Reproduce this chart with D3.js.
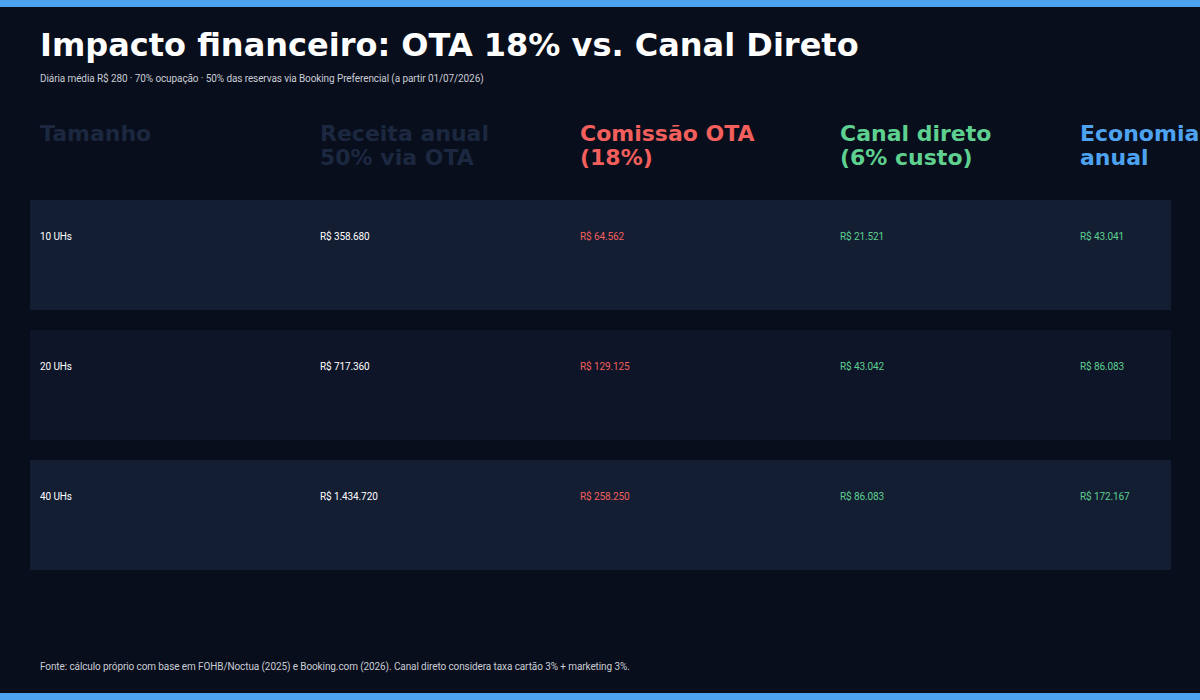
<!DOCTYPE html><html><head><meta charset="utf-8"><script src="https://cdn.jsdelivr.net/npm/d3@7"></script>
<style>body{margin:0;background:#080e1b}</style></head><body><script>
const headers=[["Tamanho"],["Receita anual","50% via OTA"],["Comissão OTA","(18%)"],["Canal direto","(6% custo)"],["Economia","anual"]];
const headerColors=["#1c2740","#1c2740","#f25f5c","#5ed08f","#4da3f0"];
const sizes=["10 UHs","20 UHs","40 UHs"];
const receita=["R$ 358.680","R$ 717.360","R$ 1.434.720"];
const comissao=["R$ 64.562","R$ 129.125","R$ 258.250"];
const direto=["R$ 21.521","R$ 43.042","R$ 86.083"];
const economia=["R$ 43.041","R$ 86.083","R$ 172.167"];
const cellColors=["#ffffff","#ffffff","#f25f5c","#5ed08f","#5ed08f"];
const colX=[40,320,580,840,1080];
const svg=d3.select("body").append("svg").attr("width",1200).attr("height",700);
svg.append("rect").attr("width",1200).attr("height",700).attr("fill","#080e1b");
svg.append("rect").attr("width",1200).attr("height",7).attr("fill","#4da3f0");
svg.append("rect").attr("y",693).attr("width",1200).attr("height",7).attr("fill","#4da3f0");
svg.append("text").attr("x",40).attr("y",56).attr("fill","#fff").attr("font-family","DejaVu Sans").attr("font-weight","bold").attr("font-size",32).text("Impacto financeiro: OTA 18% vs. Canal Direto");
svg.append("text").attr("x",40).attr("y",82).attr("fill","#c8ccd6").attr("font-family","Roboto").attr("font-size",10).attr("letter-spacing",-0.1).text("Diária média R$ 280 · 70% ocupação · 50% das reservas via Booking Preferencial (a partir 01/07/2026)");
headers.forEach((h,i)=>{const t=svg.append("text").attr("x",colX[i]).attr("y",141).attr("fill",headerColors[i]).attr("font-family","DejaVu Sans").attr("font-weight","bold").attr("font-size",22);
h.forEach((l,j)=>t.append("tspan").attr("x",colX[i]).attr("dy",j?24:0).text(l));});
const y=d3.scaleBand().domain(sizes).range([200,570]).paddingInner(20/130);
const cols=[sizes,receita,comissao,direto,economia];
sizes.forEach((s,r)=>{
 svg.append("rect").attr("x",30).attr("y",y(s)).attr("width",1141).attr("height",y.bandwidth()).attr("fill",r%2?"#0f1528":"#131e33");
 cols.forEach((c,i)=>svg.append("text").attr("x",colX[i]).attr("y",y(s)+40).attr("fill",cellColors[i]).attr("font-family","Roboto").attr("font-size",10).attr("letter-spacing",-0.1).text(c[r]));
});
svg.append("text").attr("x",40).attr("y",670).attr("fill","#c8ccd6").attr("font-family","Roboto").attr("font-size",10).attr("letter-spacing",-0.1).text("Fonte: cálculo próprio com base em FOHB/Noctua (2025) e Booking.com (2026). Canal direto considera taxa cartão 3% + marketing 3%.");
</script></body></html>
